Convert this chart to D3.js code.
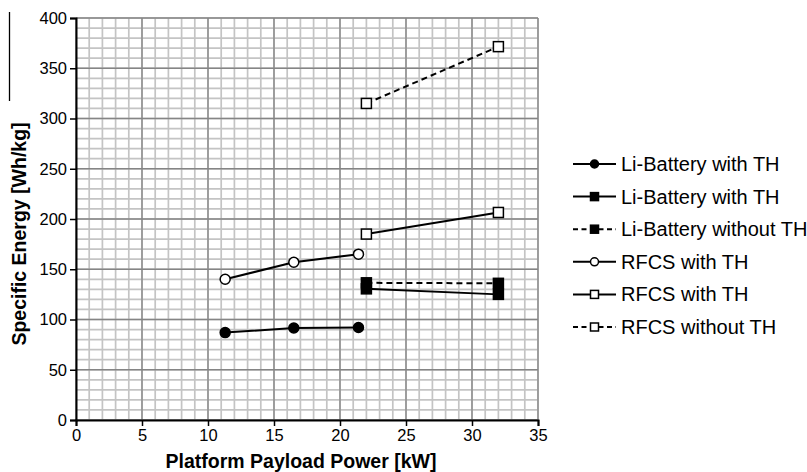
<!DOCTYPE html>
<html><head><meta charset="utf-8">
<script src="https://cdn.jsdelivr.net/npm/d3@7"></script>
<style>body{margin:0;background:#fff}svg{display:block}text{font-family:"Liberation Sans",Arial,sans-serif}</style>
</head><body><svg id="c" width="807" height="472"></svg>
<script>
const xTicks = [0,5,10,15,20,25,30,35];
const yTicks = [0,50,100,150,200,250,300,350,400];
const seriesNames = ["Li-Battery with TH","Li-Battery with TH","Li-Battery without TH","RFCS with TH","RFCS with TH","RFCS without TH"];
const seriesMarker = ["circleFilled","squareFilled","squareFilled","circleOpen","squareOpen","squareOpen"];
const seriesDashed = [false,false,true,false,false,true];
const liBatCircleX = [11.3,16.5,21.4];
const liBatCircleY = [87,91.5,92];
const liBatSquareX = [22,32];
const liBatSquareY = [130.5,125];
const liBatNoThX = [22,32];
const liBatNoThY = [136.5,136];
const rfcsCircleX = [11.3,16.5,21.4];
const rfcsCircleY = [140,157,165];
const rfcsSquareX = [22,32];
const rfcsSquareY = [185,206.5];
const rfcsNoThX = [22,32];
const rfcsNoThY = [315,371.5];
const seriesX = [liBatCircleX,liBatSquareX,liBatNoThX,rfcsCircleX,rfcsSquareX,rfcsNoThX];
const seriesY = [liBatCircleY,liBatSquareY,liBatNoThY,rfcsCircleY,rfcsSquareY,rfcsNoThY];

const svg = d3.select("#c");
const L=76,R=538,T=18,B=420;
const x = d3.scaleLinear().domain([0,35]).range([L,R]);
const y = d3.scaleLinear().domain([0,400]).range([B,T]);

// minor grid
const g = svg.append("g");
g.selectAll(".mx").data(d3.range(0,36)).enter().append("line")
 .attr("x1",d=>x(d)).attr("x2",d=>x(d)).attr("y1",T).attr("y2",B)
 .attr("stroke","#c4c4c4").attr("stroke-width",1.7);
g.selectAll(".my").data(d3.range(0,401,10)).enter().append("line")
 .attr("y1",d=>y(d)).attr("y2",d=>y(d)).attr("x1",L).attr("x2",R)
 .attr("stroke","#c4c4c4").attr("stroke-width",1.7);
// major grid
g.selectAll(".Mx").data(xTicks).enter().append("line")
 .attr("x1",d=>x(d)).attr("x2",d=>x(d)).attr("y1",T).attr("y2",B)
 .attr("stroke","#858585").attr("stroke-width",1.3);
g.selectAll(".My").data(yTicks).enter().append("line")
 .attr("y1",d=>y(d)).attr("y2",d=>y(d)).attr("x1",L).attr("x2",R)
 .attr("stroke","#858585").attr("stroke-width",1.3);

// axes
const xa = svg.append("g").attr("transform",`translate(0,${B})`)
 .call(d3.axisBottom(x).tickValues(xTicks).tickSize(6).tickPadding(3).tickFormat(d3.format("d")));
const ya = svg.append("g").attr("transform",`translate(${L},0)`)
 .call(d3.axisLeft(y).tickValues(yTicks).tickSize(6).tickPadding(3).tickFormat(d3.format("d")));
[xa,ya].forEach(a=>{
  a.select(".domain").attr("stroke","#000").attr("stroke-width",2);
  a.selectAll(".tick line").attr("stroke","#000").attr("stroke-width",1.5);
  a.selectAll("text").attr("font-size",16.5).attr("fill","#000").style("font-family","Liberation Sans, Arial, sans-serif");
});

// axis titles
svg.append("text").attr("x",301).attr("y",468).attr("text-anchor","middle")
 .attr("font-size",19.5).attr("font-weight","bold").text("Platform Payload Power [kW]");
svg.append("text").attr("transform","translate(25.5,234) rotate(-90)").attr("text-anchor","middle")
 .attr("font-size",19.5).attr("font-weight","bold").text("Specific Energy [Wh/kg]");
svg.append("line").attr("x1",9.5).attr("x2",9.5).attr("y1",12).attr("y2",101).attr("stroke","#000").attr("stroke-width",1.3);

// series
const line = d3.line().x(d=>x(d[0])).y(d=>y(d[1]));
function marker(sel,type,cx,cy,s){
  if(type.startsWith("circle")){
    sel.append("circle").attr("cx",cx).attr("cy",cy).attr("r",s/2)
     .attr("fill",type.endsWith("Filled")?"#000":"#fff").attr("stroke","#000").attr("stroke-width",1.5);
  } else {
    sel.append("rect").attr("x",cx-s/2).attr("y",cy-s/2).attr("width",s).attr("height",s)
     .attr("fill",type.endsWith("Filled")?"#000":"#fff").attr("stroke","#000").attr("stroke-width",1.5);
  }
}
const sg = svg.append("g");
seriesNames.forEach((n,i)=>{
  const pts = seriesX[i].map((v,j)=>[v,seriesY[i][j]]);
  sg.append("path").attr("d",line(pts)).attr("fill","none").attr("stroke","#000").attr("stroke-width",2)
   .attr("stroke-dasharray",seriesDashed[i]?"6,4":null);
});
seriesNames.forEach((n,i)=>{
  seriesX[i].forEach((v,j)=>marker(sg,seriesMarker[i],x(v),y(seriesY[i][j]),10));
});

// legend
const lg = svg.append("g");
seriesNames.forEach((n,i)=>{
  const yy = 164 + i*32.6;
  lg.append("line").attr("x1",573).attr("x2",616).attr("y1",yy).attr("y2",yy).attr("stroke","#000").attr("stroke-width",2)
   .attr("stroke-dasharray",seriesDashed[i]?"5,3.5":null);
  marker(lg,seriesMarker[i],594.5,yy,8);
  lg.append("text").attr("x",621).attr("y",yy+7).attr("font-size",20).attr("fill","#000").text(n);
});
</script></body></html>
